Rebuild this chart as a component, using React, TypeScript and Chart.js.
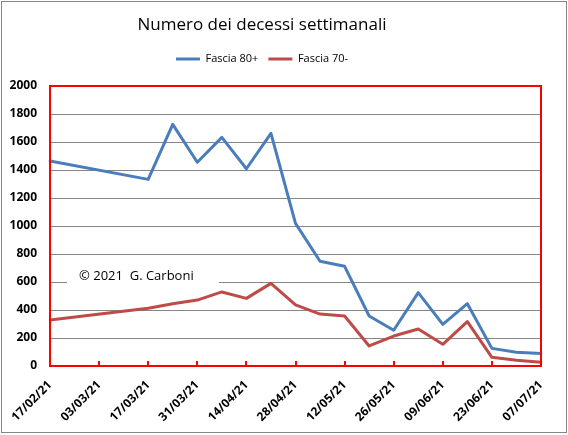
import React, { useEffect, useRef } from "react";
import { Chart, registerables } from "chart.js";

Chart.register(...registerables);

const weeks = [
  "17/02/21", "24/02/21", "03/03/21", "10/03/21", "17/03/21", "24/03/21", "31/03/21",
  "07/04/21", "14/04/21", "21/04/21", "28/04/21", "05/05/21", "12/05/21", "19/05/21",
  "26/05/21", "02/06/21", "09/06/21", "16/06/21", "23/06/21", "30/06/21", "07/07/21",
];
const fascia80 = [1464, null, null, null, 1333, 1726, 1455, 1633, 1409, 1662, 1019, 748, 712, 357, 255, 524, 297, 445, 126, 98, 90];
const fascia70 = [329, null, null, null, 412, 445, 471, 529, 483, 590, 436, 371, 357, 143, 214, 264, 155, 317, 62, 41, 26];
const seriesNames = ["Fascia 80+", "Fascia 70-"];
const titleText = "Numero dei decessi settimanali";
const watermark = "\u00A9 2021  G. Carboni";

const FONT = "'Open Sans', 'Noto Sans', sans-serif";

const decor = {
  id: "decor",
  beforeDraw(chart: any) {
    const ctx = chart.ctx;
    ctx.save();
    ctx.fillStyle = "#ffffff";
    ctx.fillRect(0, 0, chart.width, chart.height);
    ctx.strokeStyle = "#868686";
    ctx.lineWidth = 1;
    ctx.strokeRect(1.5, 1.5, chart.width - 3, chart.height - 4);
    ctx.restore();
  },
  beforeDatasetsDraw(chart: any) {
    const ctx = chart.ctx;
    const { left } = chart.chartArea;
    const y = chart.scales.y.getPixelForValue(640);
    ctx.save();
    ctx.fillStyle = "#ffffff";
    ctx.fillRect(left + 17, y - 11, 152, 20);
    ctx.fillStyle = "#000000";
    ctx.font = `13px ${FONT}`;
    ctx.textBaseline = "middle";
    ctx.fillText(watermark, left + 29, y);
    ctx.restore();
  },
  afterDatasetsDraw(chart: any) {
    const ctx = chart.ctx;
    const { left, right, top, bottom } = chart.chartArea;
    const xs = chart.scales.x;
    ctx.save();
    ctx.strokeStyle = "#ff0000";
    ctx.lineWidth = 2;
    ctx.strokeRect(left, top, right - left, bottom - top);
    ctx.beginPath();
    for (let i = 0; i < weeks.length; i += 2) {
      const px = Math.round(xs.getPixelForValue(i));
      ctx.moveTo(px, bottom);
      ctx.lineTo(px, bottom - 5);
    }
    ctx.stroke();
    ctx.restore();
  },
};

export default function App() {
  const ref = useRef<HTMLCanvasElement>(null);
  useEffect(() => {
    if (!ref.current) return;
    const chart = new Chart(ref.current, {
      type: "line",
      data: {
        labels: weeks,
        datasets: [
          {
            label: seriesNames[0],
            data: fascia80,
            borderColor: "#4a7ebb",
            backgroundColor: "#4a7ebb",
            borderWidth: 3,
            pointRadius: 0,
            tension: 0,
            spanGaps: true,
            borderJoinStyle: "round",
            borderCapStyle: "round",
          },
          {
            label: seriesNames[1],
            data: fascia70,
            borderColor: "#be4b48",
            backgroundColor: "#be4b48",
            borderWidth: 3,
            pointRadius: 0,
            tension: 0,
            spanGaps: true,
            borderJoinStyle: "round",
            borderCapStyle: "round",
          },
        ],
      },
      options: {
        animation: false,
        responsive: true,
        maintainAspectRatio: false,
        layout: { padding: { left: -17, right: 27, top: 0, bottom: 0 } },
        plugins: {
          tooltip: { enabled: false },
          title: {
            display: true,
            text: titleText,
            color: "#000000",
            font: { family: FONT, size: 17, weight: "normal" },
            padding: { top: 15, bottom: 8 },
          },
          subtitle: {
            display: true,
            text: " ",
            weight: 500,
            font: { size: 2 },
            padding: { top: 5, bottom: 4.2 },
          },
          legend: {
            display: true,
            labels: {
              color: "#000000",
              font: { family: FONT, size: 11 },
              usePointStyle: true,
              pointStyle: "line",
              pointStyleWidth: 24,
              boxHeight: 3,
              padding: 10,
            },
          },
        },
        scales: {
          x: {
            type: "category",
            offset: false,
            grid: { display: false },
            border: { display: false },
            ticks: {
              autoSkip: false,
              minRotation: 45,
              maxRotation: 45,
              padding: 4,
              color: "#000000",
              font: { family: FONT, size: 12, weight: "bold" },
              callback: (_v: any, i: number) => (i % 2 === 0 ? weeks[i] : ""),
            },
            afterFit: (s: any) => {
              s.height = 69;
            },
          },
          y: {
            min: 0,
            max: 2000,
            grid: { color: "#868686", lineWidth: 1, drawTicks: false },
            border: { display: false },
            ticks: {
              stepSize: 200,
              padding: 13,
              color: "#000000",
              font: { family: FONT, size: 12, weight: "bold" },
              callback: (v: any) => String(v),
            },
            afterFit: (s: any) => {
              s.width = 67;
            },
          },
        },
      },
      plugins: [decor],
    });
    return () => chart.destroy();
  }, []);
  return (
    <div style={{ position: "absolute", left: 0, top: 0, width: 568, height: 435 }}>
      <canvas ref={ref} />
    </div>
  );
}
